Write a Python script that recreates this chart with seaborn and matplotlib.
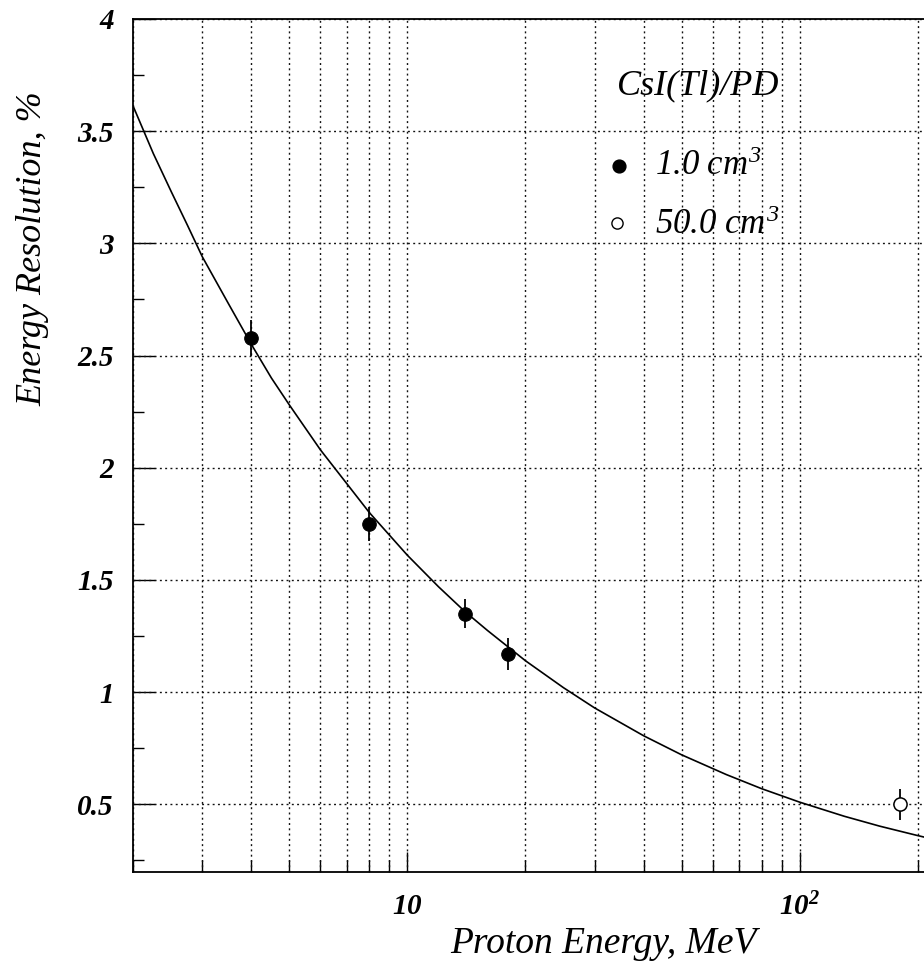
import numpy as np
import pandas as pd
import matplotlib
matplotlib.use("Agg")
import matplotlib.pyplot as plt
from matplotlib.ticker import FixedLocator, FixedFormatter, NullFormatter
import seaborn as sns

# ---- data ----
energy_1cm = [4, 8, 14, 18]
res_1cm = [2.58, 1.75, 1.35, 1.17]
err_1cm = [0.08, 0.075, 0.065, 0.07]

energy_50cm = [180]
res_50cm = [0.50]
err_50cm = [0.07]

# fitted curve, values
fit_energy = [2, 2.25, 2.5, 2.75, 3, 3.5, 4, 4.5, 5, 6, 7, 8, 10, 12, 14, 16, 20, 25, 30,
              40, 50, 65, 80, 100, 130, 160, 200, 220]
fit_res = [3.61, 3.40, 3.23, 3.08, 2.94, 2.73, 2.55, 2.40, 2.28, 2.08, 1.93, 1.80, 1.61,
           1.47, 1.36, 1.275, 1.14, 1.02, 0.93, 0.806, 0.721, 0.633, 0.570, 0.510,
           0.447, 0.403, 0.361, 0.344]

x_major = [10, 100]
x_major_labels = [r"$\mathbf{10}$", r"$\mathbf{10}^{\mathbf{2}}$"]
x_minor = [2, 3, 4, 5, 6, 7, 8, 9, 20, 30, 40, 50, 60, 70, 80, 90, 200]
y_major = [0.5, 1, 1.5, 2, 2.5, 3, 3.5, 4]
y_major_labels = ["0.5", "1", "1.5", "2", "2.5", "3", "3.5", "4"]
y_minor = [0.25, 0.75, 1.25, 1.75, 2.25, 2.75, 3.25, 3.75]

legend_title = "CsI(Tl)/PD"
legend_labels = [r"$1.0\ cm^{3}$", r"$50.0\ cm^{3}$"]
x_title = "Proton Energy, MeV"
y_title = "Energy Resolution, %"

# ---- style ----
sns.set_theme(style="white")
plt.rcParams["font.family"] = ["Liberation Serif", "DejaVu Serif"]
plt.rcParams["font.style"] = "italic"
plt.rcParams["font.weight"] = "bold"
plt.rcParams["mathtext.fontset"] = "custom"
plt.rcParams["mathtext.rm"] = "Liberation Serif:italic:normal"
plt.rcParams["mathtext.it"] = "Liberation Serif:italic:normal"
plt.rcParams["mathtext.bf"] = "Liberation Serif:italic:bold"

W, H = 924, 964
fig = plt.figure(figsize=(W / 100, H / 100), dpi=100)
left_px, right_px, top_px, bot_px = 133.3, 930.0, 19.0, 871.7
ax = fig.add_axes([left_px / W, 1 - bot_px / H, (right_px - left_px) / W, (bot_px - top_px) / H])
ax.set_facecolor("white")

ax.set_xscale("log")
ax.set_xlim(2, 215)
ax.set_ylim(0.2, 4.0)

fit_df = pd.DataFrame({"E": fit_energy, "R": fit_res})
sns.lineplot(data=fit_df, x="E", y="R", ax=ax, color="black", lw=1.2, zorder=3, sort=False)

d1 = pd.DataFrame({"E": energy_1cm, "R": res_1cm})
d2 = pd.DataFrame({"E": energy_50cm, "R": res_50cm})
ax.errorbar(energy_1cm, res_1cm, yerr=err_1cm, fmt="none", ecolor="black", elinewidth=1.3, capsize=0, zorder=4)
ax.errorbar(energy_50cm, res_50cm, yerr=err_50cm, fmt="none", ecolor="black", elinewidth=1.3, capsize=0, zorder=4)
sns.scatterplot(data=d1, x="E", y="R", ax=ax, color="black", s=95, edgecolor="black", zorder=5)
sns.scatterplot(data=d2, x="E", y="R", ax=ax, facecolor="white", s=90, edgecolor="black", linewidth=1.1, zorder=5)

# ticks
ax.xaxis.set_major_locator(FixedLocator(x_major))
ax.xaxis.set_major_formatter(FixedFormatter(x_major_labels))
ax.xaxis.set_minor_locator(FixedLocator(x_minor))
ax.xaxis.set_minor_formatter(NullFormatter())
ax.yaxis.set_major_locator(FixedLocator(y_major))
ax.yaxis.set_major_formatter(FixedFormatter(y_major_labels))
ax.yaxis.set_minor_locator(FixedLocator(y_minor))

ax.tick_params(axis="x", which="major", direction="in", length=14.5, width=1.0, color="black",
               bottom=True, top=False, pad=15, labelsize=21, labelcolor="black")
ax.tick_params(axis="x", which="minor", direction="in", length=8.5, width=1.0, color="black",
               bottom=True, top=False)
ax.tick_params(axis="y", which="major", direction="in", length=16, width=1.0, color="black",
               left=True, right=False, pad=14, labelsize=21, labelcolor="black")
ax.tick_params(axis="y", which="minor", direction="in", length=8, width=1.0, color="black",
               left=True, right=False)

# grid
grid_style = dict(color="#111111", lw=1.0, linestyle=(0, (1.4, 2.4)))
ax.grid(False)
for xv in x_major + x_minor:
    ax.axvline(xv, zorder=1, **grid_style)
for yv in y_major:
    ax.axhline(yv, zorder=1, **grid_style)

for side in ["left", "bottom", "top", "right"]:
    ax.spines[side].set_color("black")
    ax.spines[side].set_linewidth(1.3)

ax.set_xlabel("")
ax.set_ylabel("")

# axis titles
fig.text(603 / W, 1 - 953 / H, x_title, ha="center", va="baseline", fontsize=27,
         style="italic", weight="normal", color="black")
fig.text(33 / W, 1 - 249 / H, y_title, ha="center", va="center", rotation=90, fontsize=26,
         style="italic", weight="normal", color="black")

# legend (manual, as in the original)
fig.text(617 / W, 1 - 94 / H, legend_title, ha="left", va="baseline", fontsize=26,
         style="italic", weight="normal", color="black")
fig.text(655 / W, 1 - 175 / H, legend_labels[0], ha="left", va="baseline", fontsize=25,
         style="italic", weight="normal", color="black")
fig.text(655 / W, 1 - 234 / H, legend_labels[1], ha="left", va="baseline", fontsize=25,
         style="italic", weight="normal", color="black")
ax.scatter([619 / W], [1 - 166 / H], transform=fig.transFigure, s=85, color="black", zorder=6, clip_on=False)
ax.scatter([617 / W], [1 - 223 / H], transform=fig.transFigure, s=65, facecolor="white",
           edgecolor="black", linewidth=1.0, zorder=6, clip_on=False)

fig.savefig("out.png", dpi=100, facecolor="white")
